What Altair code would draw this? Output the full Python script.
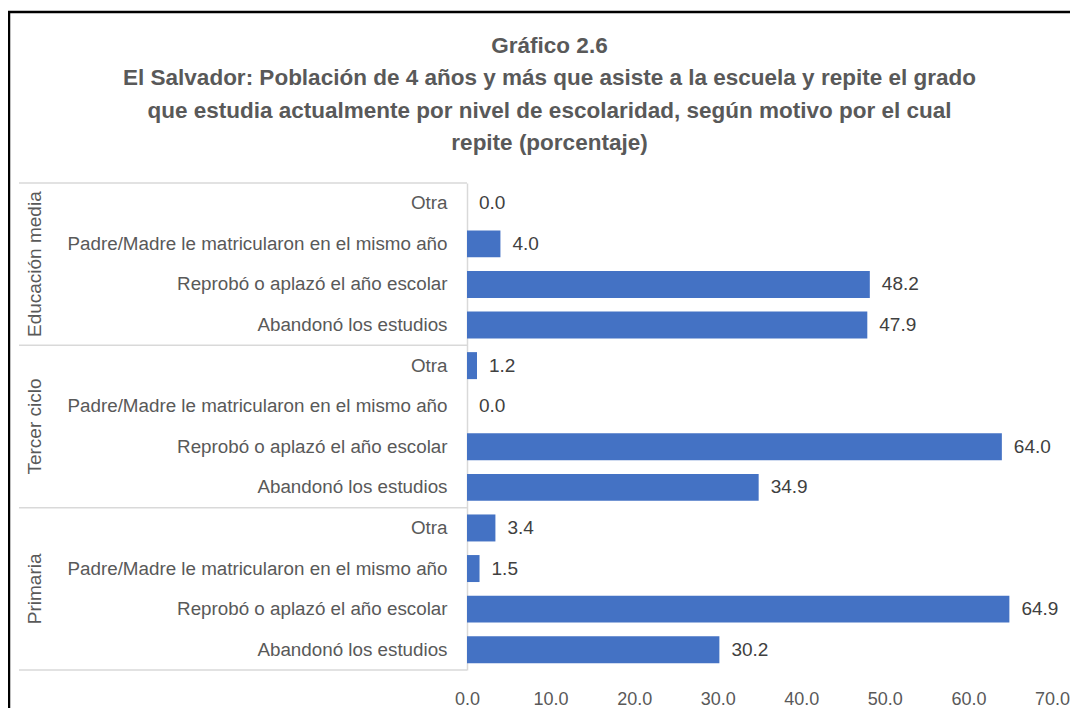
import altair as alt
import pandas as pd

groups = ["Educación media", "Tercer ciclo", "Primaria"]
reasons = ["Otra", "Padre/Madre le matricularon en el mismo año",
           "Reprobó o aplazó el año escolar", "Abandonó los estudios"]
values_media = [0.0, 4.0, 48.2, 47.9]
values_tercer = [1.2, 0.0, 64.0, 34.9]
values_primaria = [3.4, 1.5, 64.9, 30.2]
x_ticks = [0, 10, 20, 30, 40, 50, 60, 70]

title_lines = [
    "Gráfico 2.6",
    "El Salvador: Población de 4 años y más que asiste a la escuela y repite el grado",
    "que estudia actualmente por nivel de escolaridad, según motivo por el cual",
    "repite (porcentaje)",
]

FONT = "Liberation Sans, Arial, sans-serif"
BAR = "#4472C4"
TXT = "#595959"
SEP = "#D9D9D9"

rows = []
for g, vals in zip(groups, [values_media, values_tercer, values_primaria]):
    for r, v in zip(reasons, vals):
        rows.append({"grupo": g, "motivo": r, "key": g + "|" + r, "valor": v})
df = pd.DataFrame(rows)
order = list(df["key"])

gdf = pd.DataFrame({
    "grupo": groups,
    "first": [g + "|" + reasons[0] for g in groups],
    "mid": [g + "|" + reasons[1] for g in groups],
    "last": [g + "|" + reasons[-1] for g in groups],
})

W, H = 585, 487

yscale = alt.Scale(domain=order, paddingInner=0, paddingOuter=0)

bars = alt.Chart(df).mark_bar(color=BAR, height=alt.RelativeBandSize(0.665)).encode(
    x=alt.X("valor:Q", scale=alt.Scale(domain=[0, 70], nice=False),
            axis=alt.Axis(values=x_ticks, format=".1f", title=None, grid=False,
                          ticks=False, domain=False, labelFont=FONT, labelFontSize=18,
                          labelColor=TXT, labelPadding=20, labelFlush=False)),
    y=alt.Y("key:N", sort=order, scale=yscale,
            axis=alt.Axis(title=None, ticks=False, domain=True, domainColor=SEP,
                          domainWidth=1.5, labelFont=FONT, labelFontSize=18.8,
                          labelColor=TXT, labelPadding=20, labelLimit=450,
                          labelExpr="split(datum.label, '|')[1]")),
)

labels = alt.Chart(df).mark_text(align="left", baseline="middle", dx=12, font=FONT,
                                 fontSize=19, color="#404040").encode(
    x="valor:Q",
    y=alt.Y("key:N", sort=order, scale=yscale),
    text=alt.Text("valor:Q", format=".1f"),
)

sep_top = alt.Chart(gdf).mark_rule(color=SEP, strokeWidth=1.5).encode(
    x=alt.value(-448), x2=alt.value(0),
    y=alt.Y("first:N", sort=order, scale=yscale, bandPosition=0),
)
sep_bottom = alt.Chart(gdf.tail(1)).mark_rule(color=SEP, strokeWidth=1.5).encode(
    x=alt.value(-448), x2=alt.value(0),
    y=alt.Y("last:N", sort=order, scale=yscale, bandPosition=1),
)

glabels = alt.Chart(gdf).mark_text(angle=270, align="center", baseline="middle",
                                   font=FONT, fontSize=19, color=TXT).encode(
    x=alt.value(-432),
    y=alt.Y("mid:N", sort=order, scale=yscale, bandPosition=1),
    text="grupo:N",
)

frame_top = alt.Chart(gdf.head(1)).mark_rule(color="#000000", strokeWidth=2.5).encode(
    x=alt.value(-460), x2=alt.value(800), y=alt.value(-171),
)
frame_left = alt.Chart(gdf.head(1)).mark_rule(color="#000000", strokeWidth=2.5).encode(
    x=alt.value(-458), y=alt.value(-172), y2=alt.value(H + 60),
)

chart = alt.layer(bars, labels, sep_top, sep_bottom, glabels, frame_top, frame_left).properties(
    width=W, height=H,
    title=alt.TitleParams(text=title_lines, font=FONT, fontSize=22.5, fontWeight="bold",
                          color=TXT, lineHeight=32.5, anchor="middle", frame="group",
                          dx=-210, offset=28, dy=173),
    autosize=alt.AutoSizeParams(type="none"),
    padding={"left": 459, "top": 175, "right": 18, "bottom": 38},
).configure(background="white").configure_view(stroke="#FFFFFF", strokeWidth=1)

chart.save("out.html", embed_options={"renderer": "svg", "actions": False})
